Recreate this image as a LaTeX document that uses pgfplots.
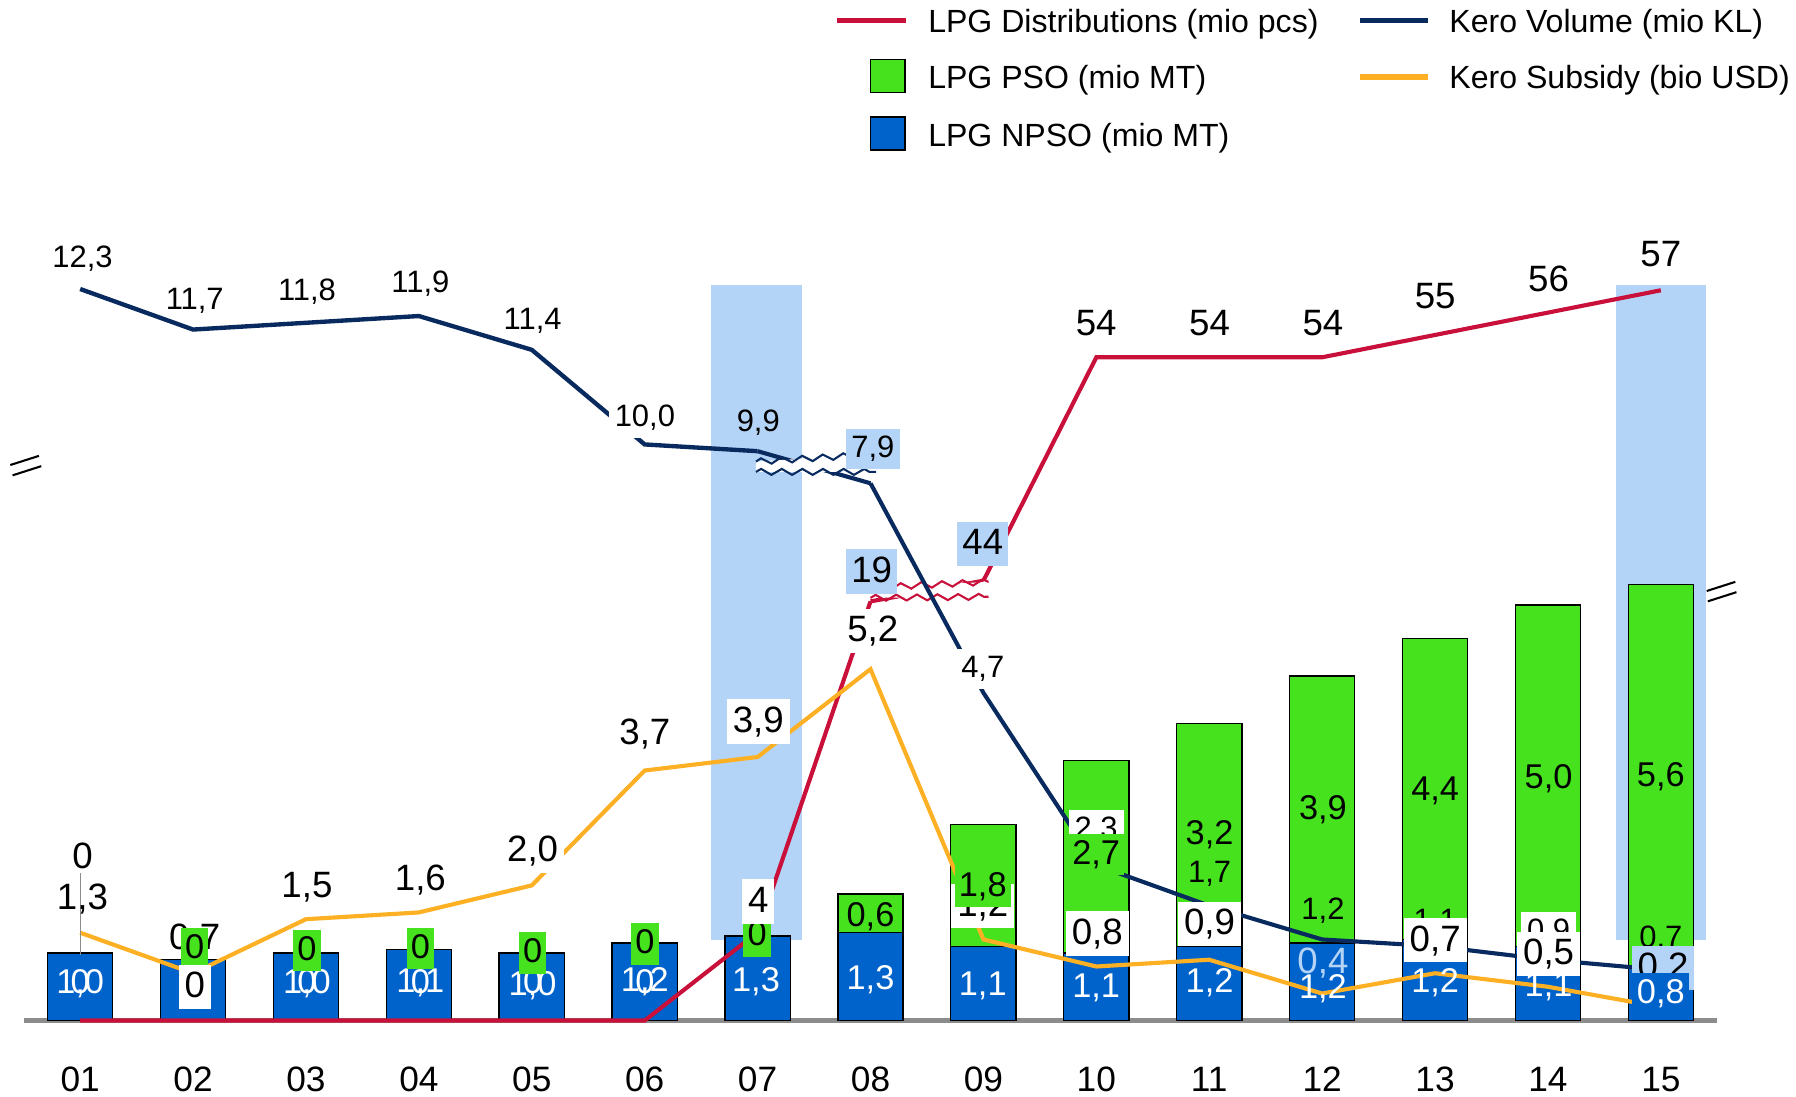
\documentclass[border=0pt]{standalone}
\usepackage{fontspec}
\setmainfont{Liberation Sans}
\usepackage{pgfplots}
\pgfplotsset{compat=1.18}
\usetikzlibrary{decorations.pathmorphing}

\definecolor{cRed}{RGB}{200,16,58}
\definecolor{cNavy}{RGB}{8,42,94}
\definecolor{cOrange}{RGB}{253,176,35}
\definecolor{cGreen}{RGB}{70,226,30}
\definecolor{cBlue}{RGB}{0,99,203}
\definecolor{cLBlue}{RGB}{180,212,247}
\definecolor{cGray}{RGB}{140,140,140}

\newcommand\fKV{\fontsize{13.5}{15}\selectfont}
\newcommand\fKS{\fontsize{16}{18}\selectfont}
\newcommand\fB{\fontsize{15}{17}\selectfont}
\newcommand\fLeg{\fontsize{14}{16}\selectfont}
\newcommand\fTick{\fontsize{15.4}{17}\selectfont}

\pgfplotsset{
  base/.style={at={(10.35pt,33pt)}, anchor=south west, scale only axis,
    width=739.3pt, height=345.5pt, xmin=-0.5, xmax=14.5, clip=false,
    enlargelimits=false},
  hid/.style={axis lines=none, xtick=\empty, ytick=\empty},
}
\tikzset{
  kv/.style={font=\fKV, inner sep=0pt, text height=9.8pt, text depth=2pt},
  ks/.style={font=\fKS, inner sep=0pt, text height=11.6pt, text depth=2.3pt},
  bl/.style={font=\fB, inner sep=0pt, text height=10.9pt, text depth=2.2pt},
  wb/.style={fill=white, inner xsep=2.6pt, inner ysep=2.7pt},
  lb/.style={fill=cLBlue, inner xsep=2.3pt, inner ysep=2.7pt},
  gb/.style={fill=cGreen, inner xsep=1.8pt, inner ysep=2.5pt},
  zz/.style={decorate, decoration={zigzag, segment length=9pt, amplitude=1.3pt}},
}

\begin{document}
\begin{tikzpicture}
\path[use as bounding box] (0,0) rectangle (784pt,478.5pt);

% highlight columns
\begin{axis}[base, hid, ymin=0, ymax=11.712]
\fill[cLBlue] (axis cs:5.59,1.19) rectangle (axis cs:6.39,10.88);
\fill[cLBlue] (axis cs:13.60,1.19) rectangle (axis cs:14.40,10.88);
\end{axis}

% stacked bars: LPG NPSO + LPG PSO
\begin{axis}[base, ymin=0, ymax=11.712, ybar stacked, bar width=28.5pt,
  axis x line=bottom, axis y line=none,
  x axis line style={draw=cGray, line width=1.8pt, -},
  xtick={0,...,14}, xticklabels={01,02,03,04,05,06,07,08,09,10,11,12,13,14,15},
  major tick length=0pt,
  xticklabel style={font=\fTick, inner sep=0pt, text depth=0pt, yshift=-20pt},
  ytick=\empty]
\addplot[fill=cBlue, draw=black, line width=0.6pt] coordinates {
 (0,1.0) (1,0.9) (2,1.0) (3,1.05) (4,1.0) (5,1.15) (6,1.25) (7,1.3)
 (8,1.1) (9,1.0) (10,1.1) (11,1.15) (12,1.2) (13,1.1) (14,0.8)};
\addplot[fill=cGreen, draw=black, line width=0.6pt] coordinates {
 (0,0) (1,0) (2,0) (3,0) (4,0) (5,0) (6,0) (7,0.57)
 (8,1.8) (9,2.85) (10,3.3) (11,3.95) (12,4.45) (13,5.05) (14,5.65)};
\end{axis}

% LPG Distributions, lower part of the broken scale
\begin{axis}[base, hid, ymin=0, ymax=35.88]
\addplot[cRed, line width=1.8pt] coordinates {
 (0,0) (1,0) (2,0) (3,0) (4,0) (5,0) (6,4) (7,19)};
\coordinate (ld08) at (axis cs:7,19);
\end{axis}

% LPG Distributions, upper part of the broken scale
\begin{axis}[base, hid, ymin=24.31, ymax=59.74]
\addplot[cRed, line width=1.8pt] coordinates {
 (8,44) (9,54) (10,54) (11,54) (12,55) (13,56) (14,57)};
\coordinate (ld09) at (axis cs:8,44);
\end{axis}
\draw[cRed, line width=1.8pt] (ld08) -- (ld09);

% LPG break mark
\begin{scope}[x=0.5pt,y=-0.5pt,shift={(0pt,478.5pt)}]
\fill[white] (760,522)--(782,512)--(863,508)--(863,521)--cycle;
\draw[cRed, line width=0.9pt, zz] (782,512)--(863,508);
\draw[cRed, line width=0.9pt, zz] (760,522)--(863,521);
\end{scope}

% Kero Volume, upper part of the broken scale
\begin{axis}[base, hid, ymin=1.475, ymax=13.187]
\addplot[cNavy, line width=1.9pt] coordinates {
 (0,12.3) (1,11.7) (2,11.8) (3,11.9) (4,11.4) (5,10.0) (6,9.9)};
\coordinate (kv07) at (axis cs:6,9.9);
\end{axis}

% main scale lines: Kero Volume (lower) and Kero Subsidy
\begin{axis}[base, hid, ymin=0, ymax=11.712]
\addplot[cNavy, line width=1.8pt] coordinates {
 (7,7.95) (8,4.85) (9,2.3) (10,1.7) (11,1.2) (12,1.1) (13,0.9) (14,0.75)};
\coordinate (kv08) at (axis cs:7,7.95);
\addplot[cOrange, line width=1.8pt] coordinates {
 (0,1.3) (1,0.7) (2,1.5) (3,1.6) (4,2.0) (5,3.7) (6,3.9) (7,5.2)
 (8,1.2) (9,0.8) (10,0.9) (11,0.4) (12,0.7) (13,0.5) (14,0.2)};
\end{axis}
\draw[cNavy, line width=1.8pt] (kv07) -- (kv08);

\begin{scope}[x=0.5pt,y=-0.5pt,shift={(0pt,478.5pt)}]
% Kero break mark
\fill[white] (660,403)--(742,398)--(765,412)--(660,412)--cycle;
\draw[cNavy, line width=0.9pt, zz] (660,403)--(742,398);
\draw[cNavy, line width=0.9pt, zz] (660,412)--(765,412);
% axis break marks
\draw[black, line width=0.9pt] (9,406)--(34,398) (11,415)--(36,407);
\draw[black, line width=0.9pt] (1490,516)--(1515,508) (1491,525)--(1516,517);
% leader line
\draw[cGray, line width=0.4pt] (70.5,762)--(70.5,834);

% Kero Subsidy labels
\node[ks] at (72,785) {1,3};
\node[ks] at (170,820) {0,7};
\node[ks] at (268,774) {1,5};
\node[ks] at (367,768) {1,6};
\node[ks,wb] at (465,743) {2,0};
\node[ks] at (563,641) {3,7};
\node[ks,wb] at (662,630) {3,9};
\node[ks,wb] at (762,551) {5,2};
\node[ks,wb] at (858,791) {1,2};
\node[ks,wb] at (958,815) {0,8};
\node[ks,wb] at (1056,807) {0,9};
\node[ks,text=cLBlue] at (1155,841) {0,4};
% Kero Volume labels
\node[kv] at (72,226) {12,3};
\node[kv] at (170,262) {11,7};
\node[kv] at (268,255) {11,8};
\node[kv] at (367,248) {11,9};
\node[kv] at (465,280) {11,4};
\node[kv,wb] at (563,365) {10,0};
\node[kv] at (662,369) {9,9};
\node[kv,lb] at (762,392) {7,9};
\node[kv,wb] at (858,584) {4,7};
\node[kv,wb] at (957,724) {2,3};
\node[kv] at (1056,763) {1,7};
\node[kv] at (1155,795) {1,2};
\node[kv] at (1253,805) {1,1};
\node[kv,wb] at (1352,813) {0,9};
\node[kv] at (1450,819) {0,7};
% Kero Subsidy labels drawn over
\node[ks,wb] at (1253,821) {0,7};
\node[ks,wb] at (1352,833) {0,5};
\node[ks,lb] at (1452,845) {0,2};

% LPG NPSO labels
\foreach \x/\y/\t in {70/859/{1,0},268/859/{1,0},367/858/{1,1},465/860/{1,0},563/857/{1,2},
  660/857/{1,3},760/855/{1,3},858/860/{1,1},957/862/{1,1},1056/858/{1,2},1155/863/{1,2},
  1253/858/{1,2},1352/861/{1,1}}
  \node[bl,text=white] at (\x,\y) {\t};
\foreach \x in {70,268,367,465,563}
  \node[bl,text=white] at (\x,859) {0};
\node[bl,text=white,fill=cBlue,inner xsep=2pt,inner ysep=2pt] at (1450,867) {0,8};

% LPG PSO labels
\node[bl] at (760,800) {0,6};
\node[bl,gb] at (858,774) {1,8};
\node[bl,gb] at (957,746) {2,7};
\node[bl] at (1056,729) {3,2};
\node[bl] at (1155,707) {3,9};
\node[bl] at (1253,690) {4,4};
\node[bl] at (1352,680) {5,0};
\node[bl] at (1450,678) {5,6};
\foreach \x/\y in {170/828,268/830,367/828,465/832,563/824,661/817}
  \node[bl,gb] at (\x,\y) {0};

% LPG Distributions labels
\node[ks] at (72,749) {0};
\node[ks,wb] at (170,862) {0};
\node[ks,wb] at (662,787) {4};
\node[ks,lb] at (761,499) {19};
\node[ks,lb] at (858,475) {44};
\node[ks] at (957,284) {54};
\node[ks] at (1056,284) {54};
\node[ks] at (1155,284) {54};
\node[ks] at (1253,260) {55};
\node[ks] at (1352,245) {56};
\node[ks] at (1450,223) {57};

% legend
\draw[cRed, line width=2.5pt] (731,18)--(791,18);
\node[anchor=west, inner sep=0pt, font=\fLeg] at (810,21) {LPG Distributions (mio pcs)};
\draw[cNavy, line width=2.5pt] (1187,18)--(1247,18);
\node[anchor=west, inner sep=0pt, font=\fLeg] at (1265,21) {Kero Volume (mio KL)};
\filldraw[fill=cGreen, draw=black, line width=0.6pt] (760,52) rectangle (790,81);
\node[anchor=west, inner sep=0pt, font=\fLeg] at (810,70) {LPG PSO (mio MT)};
\draw[cOrange, line width=2.5pt] (1187,67)--(1247,67);
\node[anchor=west, inner sep=0pt, font=\fLeg] at (1265,70) {Kero Subsidy (bio USD)};
\filldraw[fill=cBlue, draw=black, line width=0.6pt] (760,102) rectangle (790,131);
\node[anchor=west, inner sep=0pt, font=\fLeg] at (810,121) {LPG NPSO (mio MT)};
\end{scope}
\end{tikzpicture}
\end{document}
